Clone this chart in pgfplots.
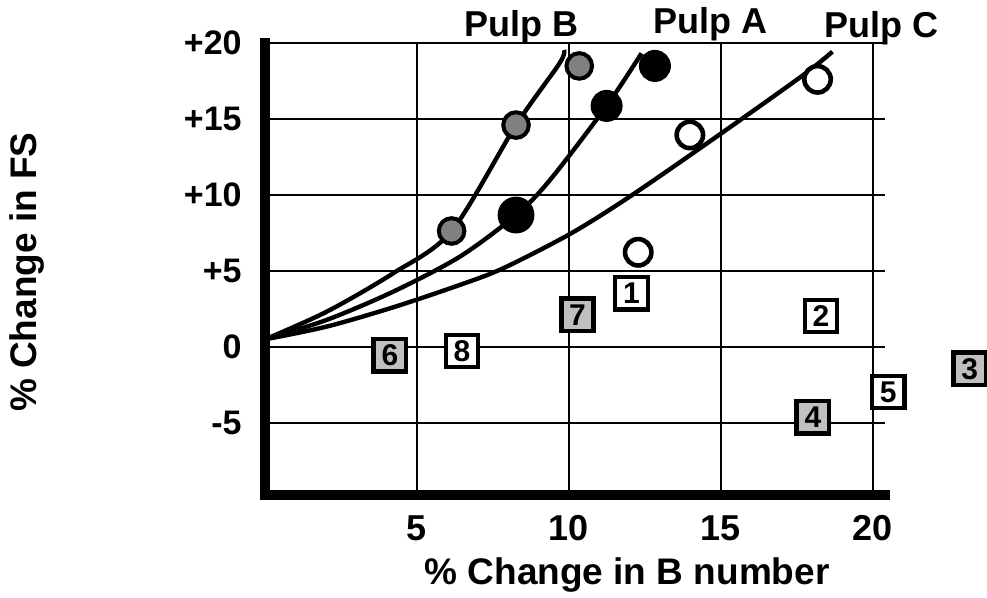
\documentclass[border=0pt]{standalone}
\usepackage{fontspec}
\setmainfont{Liberation Sans}
\usepackage{pgfplots}
\pgfplotsset{compat=1.18}
\definecolor{pulpB}{RGB}{128,128,128}
\definecolor{boxgray}{RGB}{192,192,192}

\begin{document}
\begin{tikzpicture}
\useasboundingbox (-132.5pt,-51.5pt) rectangle (361pt,247.5pt);
\begin{axis}[
  at={(0,0)}, anchor=south west,
  scale only axis, width=310pt, height=226pt,
  xmin=0, xmax=20.4, ymin=-9.74, ymax=20,
  axis x line=bottom, axis y line=left,
  axis line style={line width=5pt, -, line cap=rect},
  xtick={5,10,15,20}, xticklabels={5,10,15,20},
  ytick={-5,0,5,10,15,20}, yticklabels={-5,0,+5,+10,+15,+20},
  major tick length=0pt,
  grid=major, major grid style={black, line width=1.1pt},
  xticklabel style={font=\bfseries\fontsize{18}{18}\selectfont, inner sep=0pt, yshift=-10pt},
  yticklabel style={font=\bfseries\fontsize{17}{17}\selectfont, inner sep=0pt, xshift=-11.5pt},
  xlabel={\% Change in B number},
  xlabel style={at={(axis description cs:0.584,0)}, anchor=base, yshift=-45pt,
    font=\bfseries\fontsize{18.5}{18.5}\selectfont},
  ylabel={\% Change in FS},
  ylabel style={at={(axis description cs:-0.384,0.493)}, anchor=center,
    font=\bfseries\fontsize{18.5}{18.5}\selectfont},
  clip=false,
]
% fitted curves
\addplot[black, line width=2.2pt, smooth] coordinates {
  (0,0.5) (2.03,2.32) (4.22,4.85) (6.14,7.63)
  (8.26,14.6) (9.69,18.66) (9.84,19.54)};
\addplot[black, line width=2.2pt, smooth] coordinates {
  (0,0.5) (2.03,1.78) (4.22,3.64) (6.41,5.94)
  (8.26,8.68) (9.38,10.99) (11.24,15.86) (12.39,19.32)};
\addplot[black, line width=2.2pt, smooth] coordinates {
  (0,0.5) (2.03,1.34) (4.22,2.61) (6.41,4.08) (7.84,5.18)
  (10.05,7.45) (12.0,9.89) (14.86,13.84) (17.71,17.89) (18.67,19.43)};

% Pulp B
\addplot[only marks, mark=*, mark size=6.4pt,
  mark options={fill=pulpB, draw=black, line width=2pt}]
  coordinates {(6.14,7.63) (8.26,14.6) (10.34,18.49)};
% Pulp A
\addplot[only marks, mark=*, mark size=8.2pt,
  mark options={fill=black, draw=black, line width=2pt}]
  coordinates {(8.26,8.68)};
\addplot[only marks, mark=*, mark size=7pt,
  mark options={fill=black, draw=black, line width=2pt}]
  coordinates {(11.24,15.86) (12.83,18.49)};
% Pulp C
\addplot[only marks, mark=*, mark size=6.6pt,
  mark options={fill=white, draw=black, line width=2.3pt}]
  coordinates {(12.28,6.23) (13.98,13.95) (18.18,17.61)};

% numbered samples
\addplot[only marks, mark=none, nodes near coords, point meta=explicit symbolic,
  every node near coord/.append style={anchor=center, draw=black, line width=2.3pt,
    fill=boxgray, minimum size=16.2pt, inner sep=0pt,
    font=\bfseries\fontsize{15}{15}\selectfont}]
  table[meta=lab] {
  x     y     lab
  23.19 -1.45 3
  18.03 -4.61 4
  4.11  -0.53 6
  10.28 2.11  7
};
\addplot[only marks, mark=none, nodes near coords, point meta=explicit symbolic,
  every node near coord/.append style={anchor=center, draw=black, line width=2.1pt,
    fill=white, minimum size=16.2pt, inner sep=0pt,
    font=\bfseries\fontsize{15}{15}\selectfont}]
  table[meta=lab] {
  x     y     lab
  12.06 3.53  1
  18.29 2.04  2
  20.51 -2.96 5
  6.48  -0.26 8
};

\node[anchor=base, font=\bfseries\fontsize{18}{18}\selectfont] at (axis cs:8.45,20.41) {Pulp B};
\node[anchor=base, font=\bfseries\fontsize{18}{18}\selectfont] at (axis cs:14.67,20.64) {Pulp A};
\node[anchor=base, font=\bfseries\fontsize{18}{18}\selectfont] at (axis cs:20.3,20.38) {Pulp C};
\end{axis}
\end{tikzpicture}
\end{document}
